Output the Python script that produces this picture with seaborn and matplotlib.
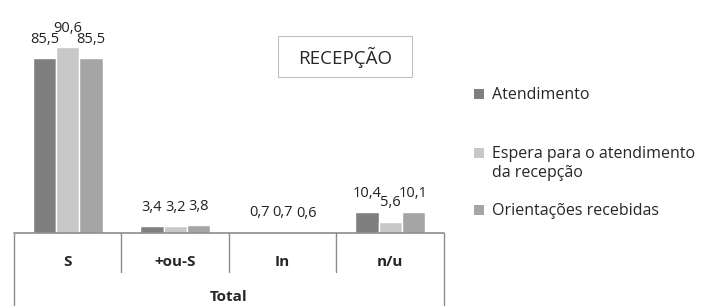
import numpy as np
import pandas as pd
import matplotlib
matplotlib.use("Agg")
import matplotlib.pyplot as plt
from matplotlib.patches import Rectangle
import seaborn as sns

# data
categories = ["S", "+ou-S", "In", "n/u"]
series = ["Atendimento", "Espera para o atendimento\nda recepção", "Orientações recebidas"]
atendimento = [85.5, 3.4, 0.7, 10.4]
espera = [90.6, 3.2, 0.7, 5.6]
orientacoes = [85.5, 3.8, 0.6, 10.1]
colors = ["#7f7f7f", "#c8c8c8", "#a5a5a5"]

df = pd.DataFrame({
    "cat": categories * 3,
    "serie": [s for s in series for _ in categories],
    "valor": atendimento + espera + orientacoes,
})

sns.set_style("white")
plt.rcParams["font.family"] = ["Open Sans", "DejaVu Sans"]

fig = plt.figure(figsize=(7.15, 3.06), dpi=100)
ax = fig.add_axes([14 / 715, 73 / 306, 430 / 715, 205 / 306])

sns.barplot(data=df, x="cat", y="valor", hue="serie", palette=colors,
            width=0.65, saturation=1, ax=ax, legend=False)

ax.set_ylim(0, 100)
ax.set_xlim(-0.5, 3.5)
for s in ax.spines.values():
    s.set_visible(False)
ax.set_yticks([])
ax.set_xticks([])
ax.set_xlabel("")
ax.set_ylabel("")

# value labels, decimal comma
for cont in ax.containers:
    ax.bar_label(cont, labels=[f"{b.get_height():.1f}".replace(".", ",") for b in cont],
                 padding=8, fontsize=10.5, color="#222222")

# category table below axis
line_c = "#8c8c8c"
ax.plot([0, 1], [0, 0], transform=ax.transAxes, color=line_c, lw=1.2, clip_on=False)
for i in range(5):
    xf = i / 4
    y_end = -1.0 if i in (0, 4) else -0.19
    ax.plot([xf, xf], [0, y_end], transform=ax.transAxes, color=line_c, lw=1.0, clip_on=False)
for i, c in enumerate(categories):
    ax.text((i + 0.5) / 4, -0.14, c, transform=ax.transAxes, ha="center", va="center",
            fontsize=11, fontweight="bold")
ax.text(0.5, -0.31, "Total", transform=ax.transAxes, ha="center", va="center",
        fontsize=11, fontweight="bold")

# title box
fig.patches.append(Rectangle((278 / 715, 1 - 77 / 306), 134 / 715, 41 / 306,
                             transform=fig.transFigure, fc="white", ec="#c0c0c0", lw=0.8))
fig.text(345 / 715, 1 - 57 / 306, "RECEPÇÃO", ha="center", va="center", fontsize=13.5)

# legend, spaced like the original
leg_y = [94, 153, 210]
for col, lab, y in zip(colors, series, leg_y):
    fig.patches.append(Rectangle((474 / 715, 1 - (y + 5) / 306), 10 / 715, 10 / 306,
                                 transform=fig.transFigure, fc=col, ec="none"))
    fig.text(492 / 715, 1 - (y - 7) / 306, lab, ha="left", va="top", fontsize=11.5,
             linespacing=1.25)

fig.savefig("out.png", dpi=100)
